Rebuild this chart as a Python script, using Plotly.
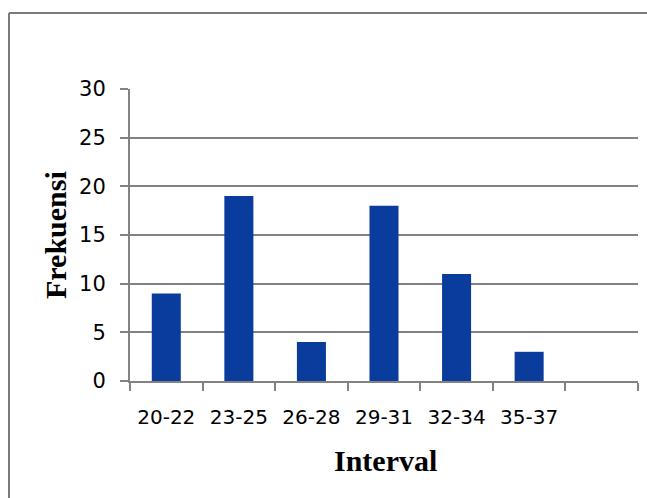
import plotly.graph_objects as go

# Frequency distribution by interval class
intervals = ["20-22", "23-25", "26-28", "29-31", "32-34", "35-37", " "]
frequencies = [9, 19, 4, 18, 11, 3, None]
y_ticks = [0, 5, 10, 15, 20, 25, 30]

W, H = 647, 498
left, right, top, bottom = 130, 638, 89, 381
pw, ph = right - left, bottom - top

bar_color = "#0a3c9e"
line_gray = "#828282"

fig = go.Figure(
    go.Bar(x=intervals, y=frequencies, marker=dict(color=bar_color, line=dict(width=0)))
)

fig.update_layout(
    width=W,
    height=H,
    margin=dict(l=left, r=W - right, t=top, b=H - bottom, pad=0),
    paper_bgcolor="white",
    plot_bgcolor="white",
    bargap=0.6,
    showlegend=False,
    xaxis=dict(
        type="category",
        tickson="boundaries",
        ticks="outside",
        ticklen=8,
        tickwidth=2,
        tickcolor=line_gray,
        showgrid=False,
        showline=True,
        linecolor=line_gray,
        linewidth=2,
        tickfont=dict(family="DejaVu Sans", size=20, color="black"),
        ticklabelstandoff=17,
        range=[-0.5, 6.5],
    ),
    yaxis=dict(
        range=[0, 30],
        tickvals=y_ticks,
        ticks="outside",
        ticklen=8,
        tickwidth=2,
        tickcolor=line_gray,
        showgrid=True,
        gridcolor=line_gray,
        gridwidth=2,
        showline=True,
        linecolor=line_gray,
        linewidth=2,
        zeroline=False,
        tickfont=dict(family="DejaVu Sans", size=21, color="black"),
        ticklabelstandoff=10,
    ),
    annotations=[
        dict(
            text="<b>Frekuensi</b>",
            xref="paper", yref="paper",
            x=(55 - left) / pw, y=0.5,
            xanchor="center", yanchor="middle",
            textangle=-90, showarrow=False,
            font=dict(family="Liberation Serif", size=30, color="black"),
        ),
        dict(
            text="<b>Interval</b>",
            xref="paper", yref="paper",
            x=(385 - left) / pw, y=(bottom - 460) / ph,
            xanchor="center", yanchor="middle",
            showarrow=False,
            font=dict(family="Liberation Serif", size=30, color="black"),
        ),
    ],
    shapes=[
        # outer chart frame (top and left edges)
        dict(type="line", xref="paper", yref="paper",
             x0=(9 - left) / pw, x1=(W + 20 - left) / pw,
             y0=1 + (top - 13) / ph, y1=1 + (top - 13) / ph,
             line=dict(color="#7a7a7a", width=2)),
        dict(type="line", xref="paper", yref="paper",
             x0=(9 - left) / pw, x1=(9 - left) / pw,
             y0=1 + (top - 13) / ph, y1=(bottom - H - 20) / ph,
             line=dict(color="#7a7a7a", width=2)),
    ],
)

fig.write_html("out.html")
